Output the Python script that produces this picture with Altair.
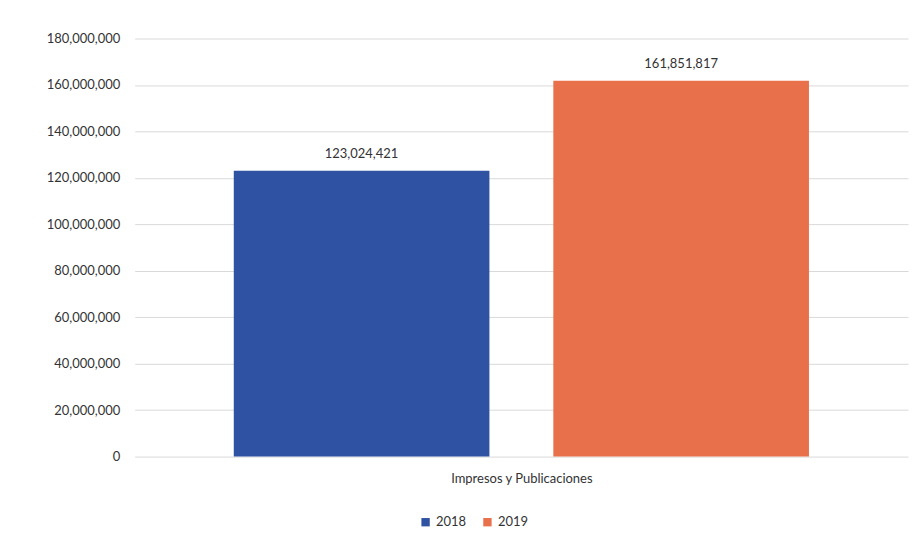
import altair as alt
import pandas as pd

years = ["2018", "2019"]
values = [123024421, 161851817]
category = "Impresos y Publicaciones"
colors = ["#2F52A3", "#E8704A"]

df = pd.DataFrame({"Año": years, "Valor": values, "Categoria": [category] * 2})

FONT = "Lato"

x = alt.X(
    "Año:N",
    title=category,
    scale=alt.Scale(paddingInner=0.2, paddingOuter=0.31),
    axis=alt.Axis(labels=False, ticks=False, domain=False, grid=False,
                  titleFont=FONT, titleFontSize=13, titleFontWeight="normal",
                  titleColor="#333333", titlePadding=16),
)
y = alt.Y(
    "Valor:Q",
    title=None,
    scale=alt.Scale(domain=[0, 180000000]),
    axis=alt.Axis(values=list(range(0, 180000001, 20000000)), format=",d",
                  ticks=False, domain=False, labelPadding=15,
                  labelFont=FONT, labelFontSize=13, labelColor="#333333",
                  gridColor="#d9d9d9", gridWidth=1),
)

bars = alt.Chart(df).mark_bar().encode(
    x=x,
    y=y,
    color=alt.Color(
        "Año:N",
        scale=alt.Scale(domain=years, range=colors),
        legend=alt.Legend(title=None, orient="none", direction="horizontal",
                          legendX=285, legendY=478, symbolType="square",
                          symbolSize=70, labelFont=FONT, labelFontSize=13,
                          labelColor="#333333", columnPadding=14,
                          symbolStrokeWidth=0),
    ),
)

labels = alt.Chart(df).mark_text(
    baseline="bottom", dy=-10, font=FONT, fontSize=13, color="#333333"
).encode(
    x=alt.X("Año:N"),
    y=alt.Y("Valor:Q"),
    text=alt.Text("Valor:Q", format=",d"),
)

chart = (bars + labels).properties(
    width=775,
    height=419,
    background="white",
    autosize=alt.AutoSizeParams(type="none"),
    padding={"left": 127, "top": 30, "right": 5, "bottom": 85},
).configure_view(stroke="transparent", strokeWidth=0)

chart.save("out.html", embed_options={"renderer": "svg", "actions": False})
